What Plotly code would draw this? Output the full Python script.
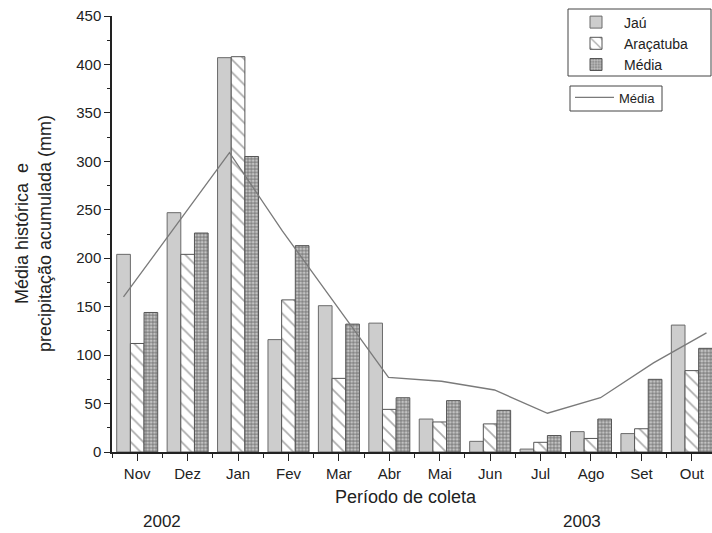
import plotly.graph_objects as go

# Monthly rainfall (mm) for the sampling period Nov/2002 - Out/2003
meses = ["Nov", "Dez", "Jan", "Fev", "Mar", "Abr", "Mai", "Jun", "Jul", "Ago", "Set", "Out"]
jau = [204, 247, 407, 116, 151, 133, 34, 11, 3, 21, 19, 131]
aracatuba = [112, 204, 408, 157, 76, 44, 31, 29, 10, 14, 24, 84]
media = [144, 226, 305, 213, 132, 56, 53, 43, 17, 34, 75, 107]
media_historica = [160, 234, 309, 228, 153, 77, 73, 64, 40, 56, 92, 123]
anos = ["2002", "2003"]

pos = list(range(len(meses)))
FONT = "Liberation Sans, Arial, sans-serif"

# plot area in pixels (used to place legends and labels in paper units)
W, H = 712, 533
ML, MR, MT, MB = 112, 0, 16, 81
PW, PH = W - ML - MR, H - MT - MB


def px(xp):
    return (xp - ML) / PW


def py(yp):
    return (H - MB - yp) / PH


fig = go.Figure()

fig.add_trace(go.Bar(
    x=pos, y=jau, name="Jaú",
    marker=dict(color="#cdcdcd", line=dict(color="#6a6a6a", width=1)),
    legend="legend",
))
fig.add_trace(go.Bar(
    x=pos, y=aracatuba, name="Araçatuba",
    marker=dict(color="white", line=dict(color="#555555", width=1),
                pattern=dict(shape="\\", size=9, solidity=0.18,
                             fgcolor="#555555", bgcolor="white")),
    legend="legend",
))
fig.add_trace(go.Bar(
    x=pos, y=media, name="Média",
    marker=dict(color="#8a8a8a", line=dict(color="#555555", width=1),
                pattern=dict(shape=".", size=3.4, solidity=0.5,
                             fgcolor="white", bgcolor="#858585")),
    legend="legend",
))

# historical mean drawn on its own (hidden) x scale
fig.add_trace(go.Scatter(
    x=pos, y=media_historica, name="Média", mode="lines",
    line=dict(color="#7a7a7a", width=1.3),
    xaxis="x2", legend="legend2",
))

box_line = dict(color="#444", width=1)

fig.update_layout(
    width=W, height=H, autosize=False,
    margin=dict(l=ML, r=MR, t=MT, b=MB),
    paper_bgcolor="white", plot_bgcolor="white",
    font=dict(family=FONT, size=15, color="#222222"),
    barmode="group", bargap=0.187, bargroupgap=0,
    xaxis=dict(
        range=[-0.5, 11.4], tickmode="array", tickvals=pos, ticktext=meses,
        ticks="outside", ticklen=7, tickwidth=1.3, tickcolor="#222",
        minor=dict(tick0=0.5, dtick=1, ticks="outside", ticklen=4,
                   tickwidth=1.2, tickcolor="#222"),
        showline=True, linecolor="#222", linewidth=1.5,
        showgrid=False, zeroline=False,
        tickfont=dict(size=15),
    ),
    xaxis2=dict(
        overlaying="x", range=[-0.217, 11.104], visible=False,
    ),
    yaxis=dict(
        range=[0, 450], dtick=50, ticks="outside", ticklen=6, tickwidth=1.3,
        tickcolor="#222",
        minor=dict(dtick=25, ticks="outside", ticklen=3, tickwidth=1.2,
                   tickcolor="#222"),
        showline=True, linecolor="#222", linewidth=1.5,
        showgrid=False, zeroline=False,
        tickfont=dict(size=15),
    ),
    legend=dict(
        x=px(568), y=py(6.5), xanchor="left", yanchor="top",
        bgcolor="rgba(0,0,0,0)", borderwidth=0,
        font=dict(size=14, color="#222"), tracegroupgap=0,
        itemwidth=46,
    ),
    legend2=dict(
        x=px(570), y=py(82.5), xanchor="left", yanchor="top",
        bgcolor="rgba(0,0,0,0)", borderwidth=0,
        font=dict(size=13, color="#222"), itemwidth=39,
    ),
    shapes=[
        dict(type="rect", xref="paper", yref="paper",
             x0=px(568), x1=px(711), y0=py(9), y1=py(76),
             line=box_line, fillcolor="rgba(0,0,0,0)", layer="above"),
        dict(type="rect", xref="paper", yref="paper",
             x0=px(570), x1=px(662), y0=py(86), y1=py(111),
             line=box_line, fillcolor="rgba(0,0,0,0)", layer="above"),
    ],
    annotations=[
        dict(text="Média histórica  e<br>precipitação acumulada (mm)",
             xref="paper", yref="paper", x=px(33), y=0.5,
             xanchor="center", yanchor="middle",
             textangle=-90, showarrow=False, font=dict(size=18)),
        dict(text="Período de coleta", xref="paper", yref="paper",
             x=px(406), y=py(497), xanchor="center", yanchor="middle",
             showarrow=False, font=dict(size=18)),
        dict(text=anos[0], xref="paper", yref="paper",
             x=px(162), y=py(521), xanchor="center", yanchor="middle",
             showarrow=False, font=dict(size=17)),
        dict(text=anos[1], xref="paper", yref="paper",
             x=px(582), y=py(521), xanchor="center", yanchor="middle",
             showarrow=False, font=dict(size=17)),
    ],
)

fig.write_html("out.html")
